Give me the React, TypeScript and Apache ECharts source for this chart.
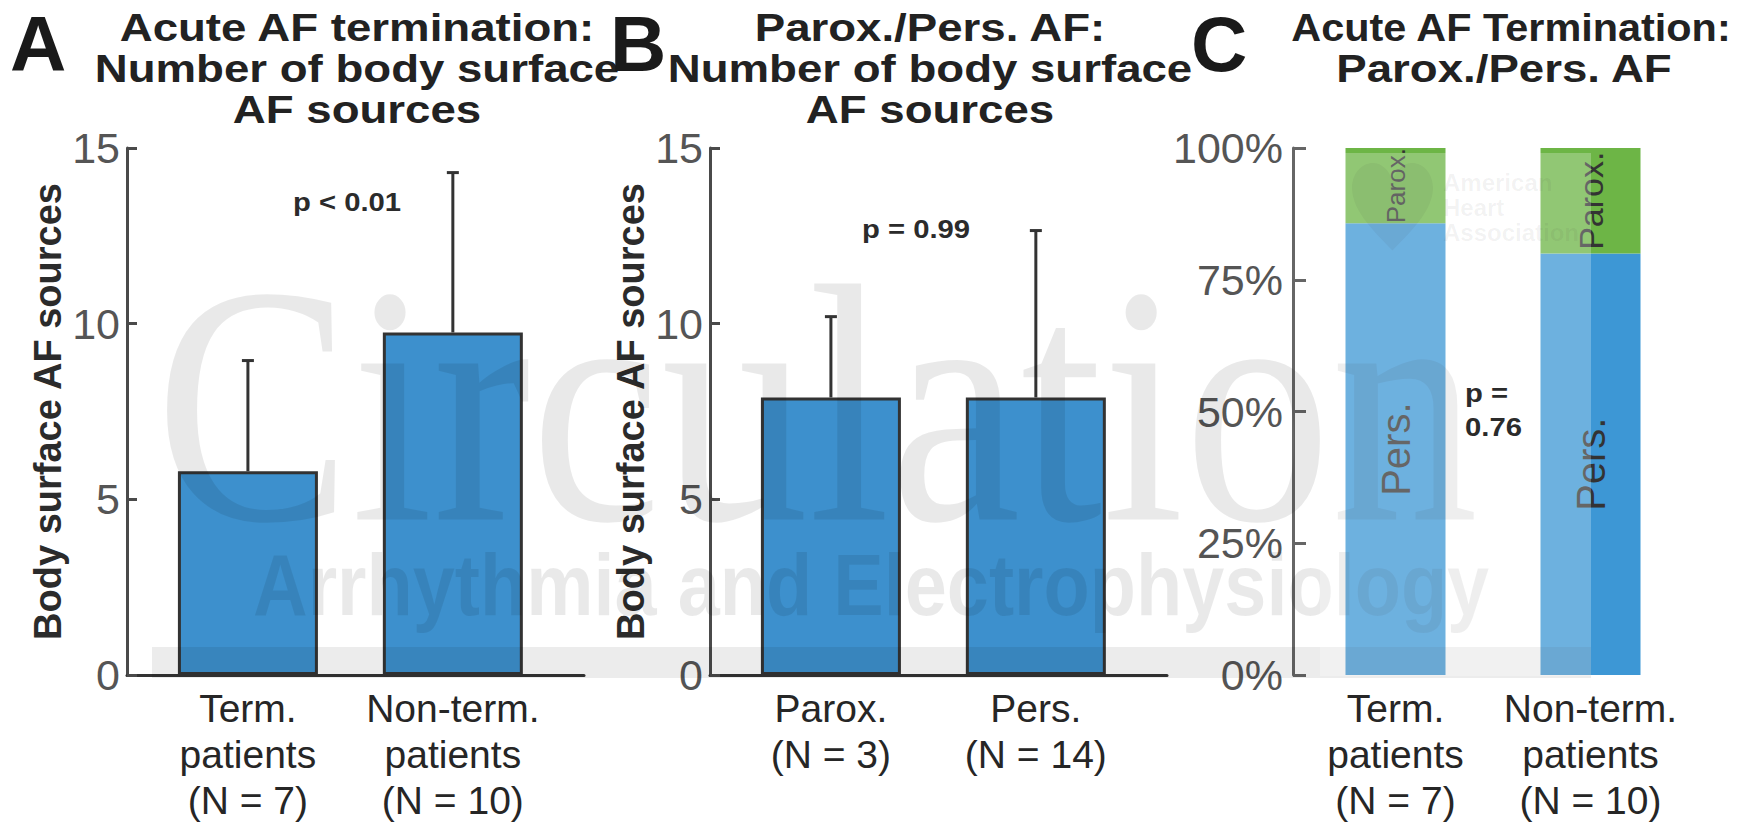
import React, { useEffect, useRef } from 'react';
import * as echarts from 'echarts';

// ---------- data ----------
const outcomeCategories = ['Term.\npatients\n(N = 7)', 'Non-term.\npatients\n(N = 10)'];
const afTypeCategories = ['Parox.\n(N = 3)', 'Pers.\n(N = 14)'];
const sourcesByOutcome = [5.8, 9.75];
const sourcesByOutcomeUpper = [8.95, 14.3];
const sourcesByType = [7.9, 7.9];
const sourcesByTypeUpper = [10.2, 12.65];
const persShare = [85.7, 80];
const paroxShare = [14.3, 20];
const segmentNames = ['Pers.', 'Parox.'];
const countTicks = [0, 5, 10, 15];
const percentTicks = [0, 25, 50, 75, 100];
const titleA = ['Acute AF termination:', 'Number of body surface', 'AF sources'];
const titleB = ['Parox./Pers. AF:', 'Number of body surface', 'AF sources'];
const titleC = ['Acute AF Termination:', 'Parox./Pers. AF'];
const panelLetters = ['A', 'B', 'C'];
const yAxisTitle = 'Body surface AF sources';
const pValueA = 'p < 0.01';
const pValueB = 'p = 0.99';
const pValueC = ['p =', '0.76'];
const watermarkMain = 'Circulation';
const watermarkSub = 'Arrhythmia and Electrophysiology';
const watermarkAha = ['American', 'Heart', 'Association'];

// ---------- styles ----------
const FONT = '"Liberation Sans", Arial, Helvetica, sans-serif';
const SERIF = '"Liberation Serif", "Times New Roman", serif';
const BAR_BLUE = '#3d90cd';
const C_BLUE = '#3d97d5';
const C_GREEN = '#6db546';
const PAROX_LABEL_SIZES = [26, 34];
const HEART_PATH =
  'M50 92 C22 68 0 48 0 26 C0 11 12 0 26 0 C37 0 46 8 50 18 C54 8 63 0 74 0 C88 0 100 11 100 26 C100 48 78 68 50 92 Z';

const positions = (arr: any[]) => arr.map((_, i) => i + 1);

function countYAxis(gridIndex: number) {
  return {
    type: 'value',
    gridIndex,
    min: countTicks[0],
    max: countTicks[countTicks.length - 1],
    interval: countTicks[1] - countTicks[0],
    axisLine: { show: true, lineStyle: { color: '#4a4a4a', width: 3 } },
    axisTick: { show: true, inside: true, length: 10, lineStyle: { color: '#4a4a4a', width: 3 } },
    axisLabel: { fontSize: 43, color: '#555', fontFamily: FONT, margin: 7 },
    splitLine: { show: false },
    name: yAxisTitle,
    nameLocation: 'middle',
    nameGap: 60,
    nameMoveOverlap: false,
    nameTextStyle: { fontSize: 38, fontWeight: 'bold', color: '#2b2b2b', fontFamily: FONT },
  };
}

const catLabelStyle = {
  fontSize: 39,
  lineHeight: 46,
  color: '#262626',
  fontFamily: FONT,
  margin: 10,
};

function valueXAxis(gridIndex: number, cats: string[], min: number, max: number) {
  return {
    type: 'value',
    gridIndex,
    min,
    max,
    axisLine: { show: true, onZero: false, lineStyle: { color: '#333', width: 3 } },
    axisTick: { show: false },
    splitLine: { show: false },
    axisLabel: {
      ...catLabelStyle,
      customValues: positions(cats),
      formatter: (v: number) => (Math.abs(v - Math.round(v)) < 1e-6 && cats[Math.round(v) - 1]) || '',
    },
  };
}

function errorSeries(axisIndex: number, means: number[], uppers: number[]) {
  return {
    type: 'custom',
    xAxisIndex: axisIndex,
    yAxisIndex: axisIndex,
    z: 5,
    encode: { x: 0, y: [1, 2] },
    data: means.map((m, i) => [i + 1, m, uppers[i]]),
    renderItem: (params: any, api: any) => {
      const x = api.value(0);
      const p0 = api.coord([x, api.value(1)]);
      const p1 = api.coord([x, api.value(2)]);
      const st = { stroke: '#333', lineWidth: 3 };
      return {
        type: 'group',
        children: [
          { type: 'line', shape: { x1: p0[0], y1: p0[1], x2: p1[0], y2: p1[1] }, style: st },
          { type: 'line', shape: { x1: p1[0] - 6, y1: p1[1], x2: p1[0] + 6, y2: p1[1] }, style: st },
        ],
      };
    },
  };
}

function barSeries(axisIndex: number, values: number[]) {
  return {
    type: 'bar',
    xAxisIndex: axisIndex,
    yAxisIndex: axisIndex,
    barWidth: 140,
    data: values.map((v, i) => [i + 1, v]),
    itemStyle: { color: BAR_BLUE, borderColor: '#333', borderWidth: 3 },
  };
}

function titleLine(text: string, cx: number, lineIndex: number, scaleX = 1.2) {
  return {
    type: 'text',
    x: cx,
    y: 7 + 41 * lineIndex,
    scaleX,
    z: 120,
    style: {
      text,
      fontSize: 38,
      fontWeight: 'bold',
      fontFamily: FONT,
      lineHeight: 41,
      fill: '#222',
      align: 'center',
      verticalAlign: 'top',
    },
  };
}

function letter(text: string, x: number) {
  return {
    type: 'text',
    x,
    y: 44,
    z: 120,
    style: { text, fontSize: 78, fontWeight: 'bold', fontFamily: FONT, fill: '#1a1a1a', align: 'left', verticalAlign: 'middle' },
  };
}

function pText(text: string, x: number, y: number, align: string) {
  return {
    type: 'text',
    x,
    y,
    scaleX: 1.17,
    z: 120,
    style: { text, fontSize: 25, fontWeight: 'bold', fontFamily: FONT, fill: '#2b2b2b', align, verticalAlign: 'middle' },
  };
}

const wm = 'rgba(0,0,0,0.085)';

export default function App() {
  const ref = useRef<HTMLDivElement>(null);
  useEffect(() => {
    if (!ref.current) return;
    echarts.graphic.registerShape('ahaHeart', echarts.graphic.extendPath(HEART_PATH, {}));
    const chart = echarts.init(ref.current, undefined, { renderer: 'svg' });
    const option: any = {
      animation: false,
      backgroundColor: '#fff',
      grid: [
        { left: 127, top: 148, width: 457, height: 527, outerBoundsMode: 'none', containLabel: false },
        { left: 710, top: 148, width: 457, height: 527, outerBoundsMode: 'none', containLabel: false },
        { left: 1298, top: 148, width: 390, height: 527, outerBoundsMode: 'none', containLabel: false },
      ],
      xAxis: [
        valueXAxis(0, outcomeCategories, 0.41, 2.64),
        valueXAxis(1, afTypeCategories, 0.41, 2.64),
        {
          type: 'category',
          gridIndex: 2,
          data: outcomeCategories,
          boundaryGap: true,
          axisLine: { show: false },
          axisTick: { show: false },
          splitLine: { show: false },
          axisLabel: { ...catLabelStyle, interval: 0 },
        },
      ],
      yAxis: [
        countYAxis(0),
        countYAxis(1),
        {
          type: 'value',
          gridIndex: 2,
          offset: 5,
          min: percentTicks[0],
          max: percentTicks[percentTicks.length - 1],
          interval: percentTicks[1] - percentTicks[0],
          axisLine: { show: true, lineStyle: { color: '#666', width: 3 } },
          axisTick: { show: true, inside: true, length: 13, lineStyle: { color: '#666', width: 3 } },
          axisLabel: { fontSize: 43, color: '#555', fontFamily: FONT, margin: 10, formatter: '{value}%' },
          splitLine: { show: false },
        },
      ],
      series: [
        barSeries(0, sourcesByOutcome),
        errorSeries(0, sourcesByOutcome, sourcesByOutcomeUpper),
        barSeries(1, sourcesByType),
        errorSeries(1, sourcesByType, sourcesByTypeUpper),
        {
          type: 'bar',
          name: segmentNames[0],
          xAxisIndex: 2,
          yAxisIndex: 2,
          stack: 'share',
          barWidth: 100,
          data: persShare,
          itemStyle: { color: C_BLUE },
          label: {
            show: true,
            position: 'inside',
            rotate: 90,
            formatter: segmentNames[0],
            fontSize: 40,
            color: '#333',
            fontFamily: FONT,
          },
        },
        {
          type: 'bar',
          name: segmentNames[1],
          xAxisIndex: 2,
          yAxisIndex: 2,
          stack: 'share',
          barWidth: 100,
          data: paroxShare.map((v, i) => ({ value: v, label: { fontSize: PAROX_LABEL_SIZES[i] } })),
          itemStyle: { color: C_GREEN },
          label: {
            show: true,
            position: 'inside',
            rotate: 90,
            formatter: segmentNames[1],
            color: '#333',
            fontFamily: FONT,
          },
        },
      ],
      graphic: [
        // watermark
        {
          type: 'text', x: 155, y: 405, scaleX: 0.865, z: 50, silent: true,
          style: { text: watermarkMain, fontSize: 340, fontFamily: SERIF, fill: wm, align: 'left', verticalAlign: 'middle' },
        },
        {
          type: 'text', x: 253, y: 584, scaleX: 0.86, z: 50, silent: true,
          style: { text: watermarkSub, fontSize: 88, fontWeight: 'bold', fontFamily: FONT, fill: wm, align: 'left', verticalAlign: 'middle' },
        },
        { type: 'rect', z: 50, silent: true, shape: { x: 152, y: 647, width: 1439, height: 31 }, style: { fill: 'rgba(0,0,0,0.075)' } },
        { type: 'ahaHeart', x: 1352, y: 163, scaleX: 0.81, scaleY: 0.95, z: 50, silent: true, style: { fill: 'rgba(0,0,0,0.07)' } },
        {
          type: 'text', x: 1443, y: 170, z: 50, silent: true,
          style: { text: watermarkAha.join('\n'), fontSize: 24, lineHeight: 25, fontWeight: 'bold', fontFamily: FONT, fill: 'rgba(0,0,0,0.07)', align: 'left', verticalAlign: 'top' },
        },
        { type: 'rect', z: 100, silent: true, shape: { x: 1320, y: 153, width: 271, height: 523 }, style: { fill: 'rgba(255,255,255,0.25)' } },
        // titles
        ...titleA.map((t, i) => titleLine(t, 357, i)),
        ...titleB.map((t, i) => titleLine(t, 930, i)),
        titleLine(titleC[0], 1511, 0, 1.09),
        titleLine(titleC[1], 1504, 1),
        letter(panelLetters[0], 10),
        letter(panelLetters[1], 610),
        letter(panelLetters[2], 1191),
        pText(pValueA, 347, 202, 'center'),
        pText(pValueB, 916, 229, 'center'),
        pText(pValueC[0], 1465, 393, 'left'),
        pText(pValueC[1], 1465, 427, 'left'),
      ],
    };
    chart.setOption(option);
    return () => chart.dispose();
  }, []);
  return (
    <div
      ref={ref}
      style={{ position: 'fixed', left: 0, top: 0, width: 1737, height: 826, background: '#fff' }}
    />
  );
}
